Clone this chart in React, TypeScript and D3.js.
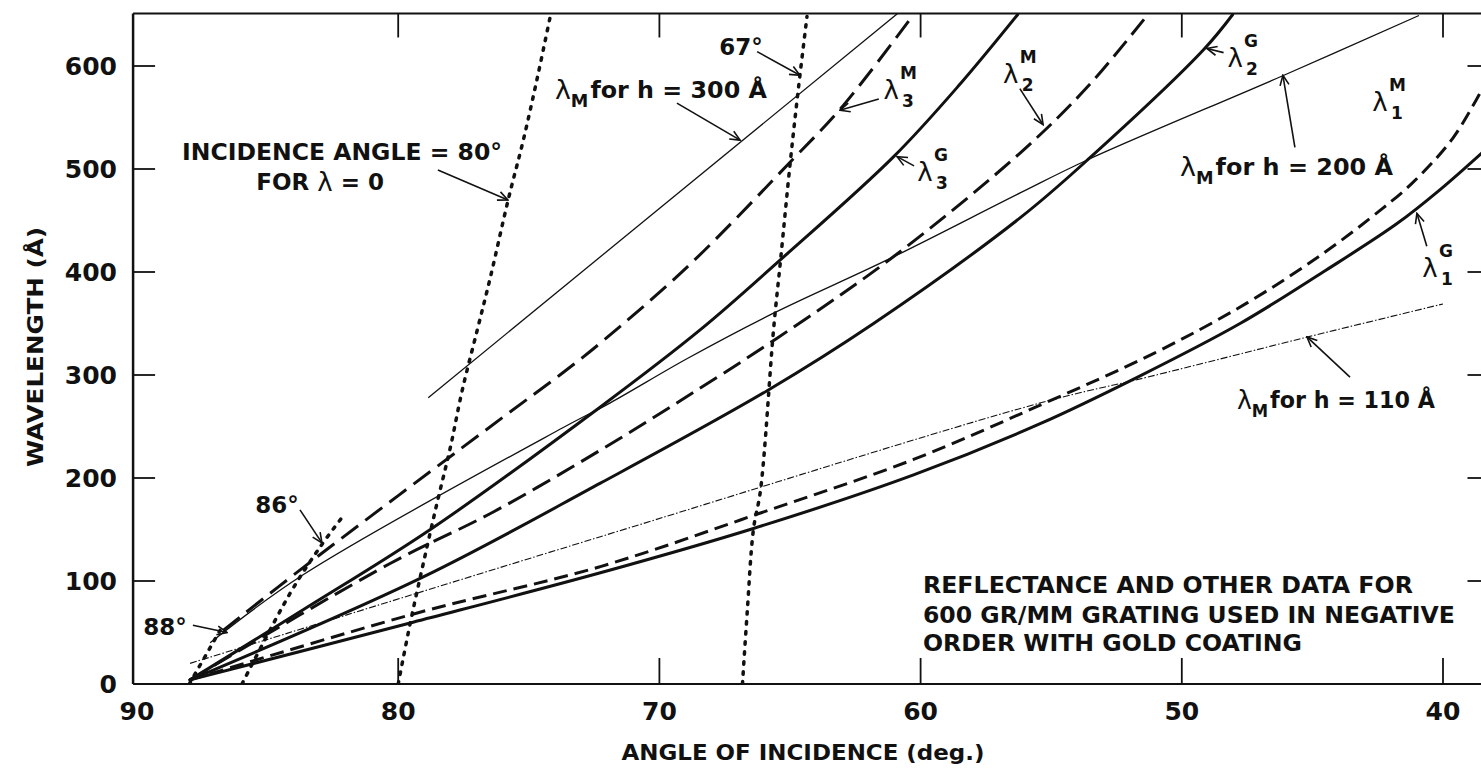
import React, { useEffect, useRef } from 'react';
import * as d3 from 'd3';

// axes
const xTickValues = [80, 70, 60, 50, 40];
const xLabelValues = [90, 80, 70, 60, 50, 40];
const yTickValues = [100, 200, 300, 400, 500, 600];
const yLabelValues = [0, 100, 200, 300, 400, 500, 600];

// [angle of incidence (deg), wavelength (Å)]
const lambda1G = [[87.97, 4], [79.43, 60], [72.26, 108], [66.4, 151], [60.27, 203], [55.4, 253], [51.69, 298], [47.77, 350], [44.59, 400], [41.76, 447], [40.11, 480], [38.45, 517]];
const lambda1M = [[87.97, 4], [79.27, 69], [72.26, 114], [66.13, 166], [60.27, 218], [55.4, 271], [51.07, 321], [47.5, 370], [44.59, 418], [42.3, 462], [41.15, 487], [39.62, 530], [38.45, 580]];
const lambda2G = [[87.97, 4], [79.04, 104], [72.26, 195], [65.86, 285], [61.8, 350], [56.17, 453], [53.6, 509], [49.16, 616], [48.05, 650]];
const lambda2M = [[87.97, 4], [80.31, 117], [76.36, 167], [72.26, 227], [69.2, 275], [65.48, 336], [61.03, 415], [56.17, 516], [53.6, 580], [51.3, 650]];
const lambda3G = [[87.97, 4], [83.64, 72], [78.77, 150], [72.26, 269], [68.43, 344], [65.36, 412], [61.03, 512], [58.47, 583], [56.28, 650]];
const lambda3M = [[86.7, 52], [83.64, 113], [75.99, 259], [73.81, 300], [72.26, 331], [68.93, 405], [64.98, 507], [62.95, 562], [60.27, 650]];
const hLine300 = [[78.85, 278], [60.88, 651]];
const hLine200 = [[87.2, 40], [83.64, 106], [73.68, 249], [71.88, 273], [68.93, 316], [65.63, 360], [61.26, 412], [56.17, 477], [53.6, 509], [46.09, 591], [40.92, 649]];
const hLine110 = [[87.97, 20], [72.26, 143], [55.4, 273], [51.3, 298], [45.17, 337], [40.0, 369]];
const dotted80 = [[80.0, 0], [79.54, 59], [79.04, 117], [78.51, 176], [78.0, 230], [77.55, 285], [76.97, 344], [76.47, 395], [75.79, 470], [75.21, 528], [74.67, 589], [74.18, 648]];
const dotted67 = [[66.82, 0], [66.64, 69], [66.4, 150], [66.13, 188], [65.63, 344], [65.36, 412], [64.98, 509], [64.67, 580], [64.35, 648]];
const dotted86 = [[85.98, 0], [84.14, 88], [82.99, 133], [82.11, 163]];
const dotted88 = [[88.0, 0], [86.82, 52]];

// arrows: [fromAngle, fromLambda, toAngle, toLambda]
const arrows = [
  [78.48, 499, 75.8, 470],
  [69.33, 564, 66.91, 528],
  [66.26, 614, 64.62, 591],
  [61.6, 568, 63.09, 557],
  [60.25, 503, 60.9, 512],
  [56.2, 578, 55.31, 543],
  [48.4, 613, 49.04, 617],
  [45.67, 521, 46.13, 591],
  [40.62, 425, 41.0, 457],
  [43.56, 298, 45.21, 337],
  [83.76, 169, 82.92, 137],
  [87.86, 57, 86.55, 50],
];

// lambda symbols: [angle, lambda, superscript, subscript]
const symbolLabels = [
  [61.13, 577, 'M', '3'],
  [59.83, 497, 'G', '3'],
  [56.55, 592, 'M', '2'],
  [47.96, 608, 'G', '2'],
  [42.41, 565, 'M', '1'],
  [40.5, 404, 'G', '1'],
];

// h labels: [angle at left edge, lambda, text, width]
const hLabels = [
  [74.0, 577, 'for h = 300 Å', 212],
  [50.07, 502, 'for h = 200 Å', 213],
  [47.89, 276, 'for h = 110 Å', 198],
];

const noteLines = ['REFLECTANCE AND OTHER DATA FOR', '600 GR/MM GRATING USED IN NEGATIVE', 'ORDER WITH GOLD COATING'];
const noteLambda = [96, 67, 40];
const noteWidths = [490, 532, 379];

const FONT = '"DejaVu Sans", sans-serif';

export default function App() {
  const svgRef = useRef<SVGSVGElement>(null);

  useEffect(() => {
    if (!svgRef.current) return;
    const width = 1481;
    const height = 770;

    const svg = d3.select(svgRef.current);
    svg.selectAll('*').remove();
    svg.attr('width', width).attr('height', height);

    const x = d3.scaleLinear().domain([90, 40]).range([137, 1443]);
    const y = d3.scaleLinear().domain([0, 600]).range([684, 66]);

    const left = x(90.15);
    const right = x(38.45);
    const top = y(651);
    const bottom = y(0);

    svg.append('rect').attr('width', width).attr('height', height).attr('fill', '#fff');

    const defs = svg.append('defs');
    defs.append('clipPath').attr('id', 'plot')
      .append('rect').attr('x', left).attr('y', top).attr('width', right - left).attr('height', bottom - top);
    defs.append('marker').attr('id', 'arrow')
      .attr('viewBox', '0 0 12 12').attr('refX', 11).attr('refY', 6)
      .attr('markerWidth', 12).attr('markerHeight', 12)
      .attr('markerUnits', 'userSpaceOnUse').attr('orient', 'auto')
      .append('path').attr('d', 'M1,1.5 L11,6 L1,10.5')
      .attr('fill', 'none').attr('stroke', '#111').attr('stroke-width', 1.6);

    // frame
    const frame = svg.append('g').attr('stroke', '#111').attr('fill', 'none');
    frame.append('line').attr('x1', left).attr('x2', left).attr('y1', top).attr('y2', bottom).attr('stroke-width', 2.5);
    frame.append('line').attr('x1', left).attr('x2', right).attr('y1', bottom).attr('y2', bottom).attr('stroke-width', 2);
    frame.append('line').attr('x1', left).attr('x2', right).attr('y1', top).attr('y2', top).attr('stroke-width', 2);
    frame.append('line').attr('x1', right).attr('x2', right).attr('y1', top).attr('y2', bottom).attr('stroke-width', 2);

    yTickValues.forEach(v => {
      frame.append('line').attr('x1', left).attr('x2', left + 22).attr('y1', y(v)).attr('y2', y(v)).attr('stroke-width', 1.8);
      frame.append('line').attr('x1', right - 16).attr('x2', right).attr('y1', y(v)).attr('y2', y(v)).attr('stroke-width', 1.8);
    });
    xTickValues.forEach(v => {
      frame.append('line').attr('x1', x(v)).attr('x2', x(v)).attr('y1', bottom).attr('y2', bottom - 26).attr('stroke-width', 1.8);
      frame.append('line').attr('x1', x(v)).attr('x2', x(v)).attr('y1', top).attr('y2', top + 24).attr('stroke-width', 1.8);
    });

    const labels = svg.append('g').attr('fill', '#111').style('font-family', FONT).style('font-weight', 'bold');
    yLabelValues.forEach(v => {
      labels.append('text').attr('x', 117).attr('y', y(v)).attr('text-anchor', 'end')
        .attr('dominant-baseline', 'central').style('font-size', '25px').text(v);
    });
    xLabelValues.forEach(v => {
      labels.append('text').attr('x', x(v)).attr('y', 711).attr('text-anchor', 'middle')
        .attr('dominant-baseline', 'central').style('font-size', '25px').text(v);
    });

    labels.append('text').attr('x', 803).attr('y', 752).attr('text-anchor', 'middle')
      .attr('dominant-baseline', 'central').style('font-size', '22px')
      .attr('textLength', 363).attr('lengthAdjust', 'spacingAndGlyphs')
      .text('ANGLE OF INCIDENCE (deg.)');
    labels.append('text').attr('transform', 'translate(36,347) rotate(-90)').attr('text-anchor', 'middle')
      .attr('dominant-baseline', 'central').style('font-size', '21px')
      .attr('textLength', 240).attr('lengthAdjust', 'spacingAndGlyphs')
      .text('WAVELENGTH (Å)');

    // curves
    const line = d3.line<number[]>().x(d => x(d[0])).y(d => y(d[1])).curve(d3.curveCatmullRom.alpha(0.5));
    const plot = svg.append('g').attr('clip-path', 'url(#plot)').attr('fill', 'none').attr('stroke', '#111');

    const series = [
      { data: hLine300, width: 1.3, dash: null, cap: 'butt' },
      { data: hLine200, width: 1.3, dash: null, cap: 'butt' },
      { data: hLine110, width: 1.1, dash: '7,2,1.5,2', cap: 'butt' },
      { data: lambda1G, width: 3, dash: null, cap: 'round' },
      { data: lambda2G, width: 3, dash: null, cap: 'round' },
      { data: lambda3G, width: 3, dash: null, cap: 'round' },
      { data: lambda1M, width: 3, dash: '14,7', cap: 'butt' },
      { data: lambda2M, width: 3, dash: '20,8', cap: 'butt' },
      { data: lambda3M, width: 3, dash: '21,9', cap: 'butt' },
      { data: dotted80, width: 3.5, dash: '2.5,7.5', cap: 'round' },
      { data: dotted67, width: 3.5, dash: '2.5,7.5', cap: 'round' },
      { data: dotted86, width: 3.5, dash: '2.5,7.5', cap: 'round' },
      { data: dotted88, width: 3.5, dash: '2.5,7.5', cap: 'round' },
    ];
    series.forEach(s => {
      plot.append('path').datum(s.data)
        .attr('d', line)
        .attr('stroke-width', s.width)
        .attr('stroke-dasharray', s.dash)
        .attr('stroke-linecap', s.cap)
        .attr('stroke-linejoin', 'round');
    });

    // annotation arrows
    const ann = svg.append('g').attr('stroke', '#111').attr('fill', 'none');
    arrows.forEach(a => {
      ann.append('line')
        .attr('x1', x(a[0])).attr('y1', y(a[1]))
        .attr('x2', x(a[2])).attr('y2', y(a[3]))
        .attr('stroke-width', 1.6)
        .attr('marker-end', 'url(#arrow)');
    });

    // lambda symbols with super/subscripts
    symbolLabels.forEach(([a, l, sup, sub]) => {
      const g = labels.append('g').attr('transform', `translate(${x(a as number)},${y(l as number)})`);
      g.append('text').attr('text-anchor', 'middle').attr('dominant-baseline', 'central')
        .style('font-size', '26px').style('font-weight', 'normal').text('λ');
      g.append('text').attr('x', 9).attr('y', -17).attr('dominant-baseline', 'central')
        .style('font-size', '17px').text(sup as string);
      g.append('text').attr('x', 11).attr('y', 11).attr('dominant-baseline', 'central')
        .style('font-size', '17px').text(sub as string);
    });

    // lambda_M for h labels
    hLabels.forEach(([a, l, txt, w]) => {
      const t = labels.append('text').attr('x', x(a as number)).attr('y', y(l as number))
        .attr('dominant-baseline', 'central')
        .attr('textLength', w as number).attr('lengthAdjust', 'spacingAndGlyphs');
      t.append('tspan').style('font-size', '26px').style('font-weight', 'normal').text('λ');
      t.append('tspan').attr('dy', 11).style('font-size', '17px').text('M');
      t.append('tspan').attr('dy', -11).attr('dx', 2).style('font-size', '23px').text(txt as string);
    });

    // other annotations
    const txt = (a: number, l: number, s: string, size: number, w?: number, anchor = 'middle') => {
      const t = labels.append('text').attr('x', x(a)).attr('y', y(l))
        .attr('text-anchor', anchor).attr('dominant-baseline', 'central')
        .style('font-size', `${size}px`).text(s);
      if (w) t.attr('textLength', w).attr('lengthAdjust', 'spacingAndGlyphs');
      return t;
    };
    txt(82.15, 516.5, 'INCIDENCE ANGLE = 80°', 23, 320);
    const forT = labels.append('text').attr('x', x(82.99)).attr('y', y(487))
      .attr('text-anchor', 'middle').attr('dominant-baseline', 'central').style('font-size', '23px');
    forT.append('tspan').text('FOR  ');
    forT.append('tspan').style('font-weight', 'normal').style('font-size', '26px').text('λ');
    forT.append('tspan').text(' = 0');
    txt(66.88, 618, '67°', 23);
    txt(84.64, 174, '86°', 23);
    txt(88.93, 55, '88°', 23);

    noteLines.forEach((s, i) => {
      txt(59.91, noteLambda[i], s, 23, noteWidths[i], 'start');
    });
  }, []);

  return (
    <div style={{ position: 'absolute', left: 0, top: 0 }}>
      <svg ref={svgRef} style={{ display: 'block' }} />
    </div>
  );
}
